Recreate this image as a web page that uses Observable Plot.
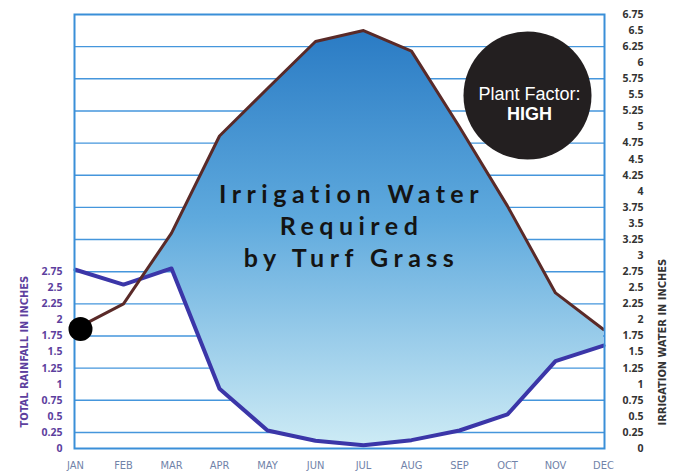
<!DOCTYPE html>
<html>
<head>
<meta charset="utf-8">
<script src="https://cdn.jsdelivr.net/npm/d3@7"></script>
<script src="https://cdn.jsdelivr.net/npm/@observablehq/plot@0.6"></script>
<style>
  html, body { margin: 0; padding: 0; background: #fff; }
</style>
</head>
<body>
<div id="chart"></div>
<script>
// ---- data ----
const months = ["JAN","FEB","MAR","APR","MAY","JUN","JUL","AUG","SEP","OCT","NOV","DEC"];
const irrigation = [1.86, 2.25, 3.35, 4.86, 5.6, 6.33, 6.5, 6.18, 5.0, 3.77, 2.42, 1.85];
const rainfall   = [2.78, 2.55, 2.8, 0.93, 0.28, 0.12, 0.05, 0.13, 0.28, 0.53, 1.36, 1.6];
const rightTicks = [0,0.25,0.5,0.75,1,1.25,1.5,1.75,2,2.25,2.5,2.75,3,3.25,3.5,3.75,4,4.25,4.5,4.75,5,5.25,5.5,5.75,6,6.25,6.5,6.75];
const leftTicks  = [0,0.25,0.5,0.75,1,1.25,1.5,1.75,2,2.25,2.5,2.75];
const gridLines  = [0.25,0.75,1.25,1.75,2.25,2.75,3.25,3.75,4.25,4.75,5.25,5.75,6.25];
const titleText  = "Irrigation Water\nRequired\nby Turf Grass";

const table = months.map((m, i) => ({month: m, et: irrigation[i], rain: rainfall[i]}));

const defs = () => {
  const d = d3.create("svg:defs");
  const g = d.append("linearGradient").attr("id", "fillGrad")
    .attr("x1", 0).attr("y1", 0).attr("x2", 0).attr("y2", 1);
  g.append("stop").attr("offset", "0%").attr("stop-color", "#2a7bc4");
  g.append("stop").attr("offset", "45%").attr("stop-color", "#5ea9dd");
  g.append("stop").attr("offset", "100%").attr("stop-color", "#cdebf5");
  return d.node();
};

const chart = Plot.plot({
  width: 679,
  height: 472,
  marginLeft: 74,
  marginRight: 75,
  marginTop: 14,
  marginBottom: 24,
  style: {background: "#fff", fontFamily: "'Open Sans', sans-serif"},
  x: {type: "point", domain: months, padding: 0},
  y: {domain: [0, 6.75]},
  marks: [
    defs,
    Plot.ruleY(gridLines, {stroke: "#4596dc", strokeWidth: 1.4}),
    Plot.areaY(table, {
      x: "month", y1: "rain", y2: "et", fill: "url(#fillGrad)",
      render(index, scales, values, dimensions, context, next) {
        const g = next(index, scales, values, dimensions, context);
        const clip = d3.area()
          .x(d => scales.x(d.month))
          .y0(dimensions.marginTop)
          .y1(d => scales.y(d.rain));
        const cp = d3.create("svg:clipPath").attr("id", "rainClip");
        cp.append("path").attr("d", clip(table));
        g.insertBefore(cp.node(), g.firstChild);
        g.setAttribute("clip-path", "url(#rainClip)");
        return g;
      }
    }),
    Plot.lineY(table, {x: "month", y: "rain", stroke: "#3b36a8", strokeWidth: 4}),
    Plot.lineY(table, {x: "month", y: "et", stroke: "#5a2a28", strokeWidth: 3}),
    Plot.frame({stroke: "#3a8fd8", strokeWidth: 2}),
    Plot.dot(table.slice(0, 1), {x: "month", y: "et", r: 12, fill: "#000", dx: 5}),
    Plot.axisX({anchor: "bottom", tickSize: 0, tickPadding: 13, fontSize: 11, fill: "#7183a9", label: null,
      fontFamily: "'DejaVu Sans Condensed', sans-serif"}),
    Plot.axisY({anchor: "left", ticks: leftTicks, tickFormat: d => String(d), tickSize: 0, tickPadding: 12,
      fontSize: 10.5, fontWeight: "bold", fill: "#5d3f9e", label: null}),
    Plot.axisY({anchor: "right", ticks: rightTicks, tickFormat: d => String(d), tickSize: 0, tickPadding: 39,
      textAnchor: "end", fontSize: 10.5, fontWeight: "bold", fill: "#333", label: null}),
    Plot.text(["TOTAL RAINFALL IN INCHES"], {frameAnchor: "bottom-left", rotate: -90, textAnchor: "start",
      dx: -47, dy: -21, fontSize: 11, fontWeight: "bold", fill: "#5d3f9e", fontFamily: "'DejaVu Sans Condensed', sans-serif"}),
    Plot.text(["IRRIGATION WATER IN INCHES"], {frameAnchor: "bottom-right", rotate: -90, textAnchor: "start",
      dx: 61, dy: -23, fontSize: 11, fontWeight: "bold", fill: "#333", fontFamily: "'DejaVu Sans Condensed', sans-serif"}),
    Plot.text([titleText], {frameAnchor: "top", lineAnchor: "top",
      dx: 12, dy: 166, lineHeight: 1.28, fontSize: 25, fontWeight: "bold", fill: "#141414",
      fontFamily: "Lato, sans-serif"}),
    Plot.dot([0], {frameAnchor: "top-right", dx: -77, dy: 81, r: 64, fill: "#231f20"}),
    Plot.text(["Plant Factor:"], {frameAnchor: "top-right", textAnchor: "middle", dx: -75, dy: 73, fontSize: 18, fill: "#fff",
      fontFamily: "'Liberation Sans', Arial, sans-serif"}),
    Plot.text(["HIGH"], {frameAnchor: "top-right", textAnchor: "middle", dx: -75, dy: 93, fontSize: 18, fontWeight: "bold", fill: "#fff",
      fontFamily: "'Liberation Sans', Arial, sans-serif"})
  ]
});
d3.select(chart).selectAll("text")
  .filter(function() { return this.textContent.startsWith("Irrigation"); })
  .style("letter-spacing", "5.5px");
document.getElementById("chart").appendChild(chart);
</script>
</body>
</html>
